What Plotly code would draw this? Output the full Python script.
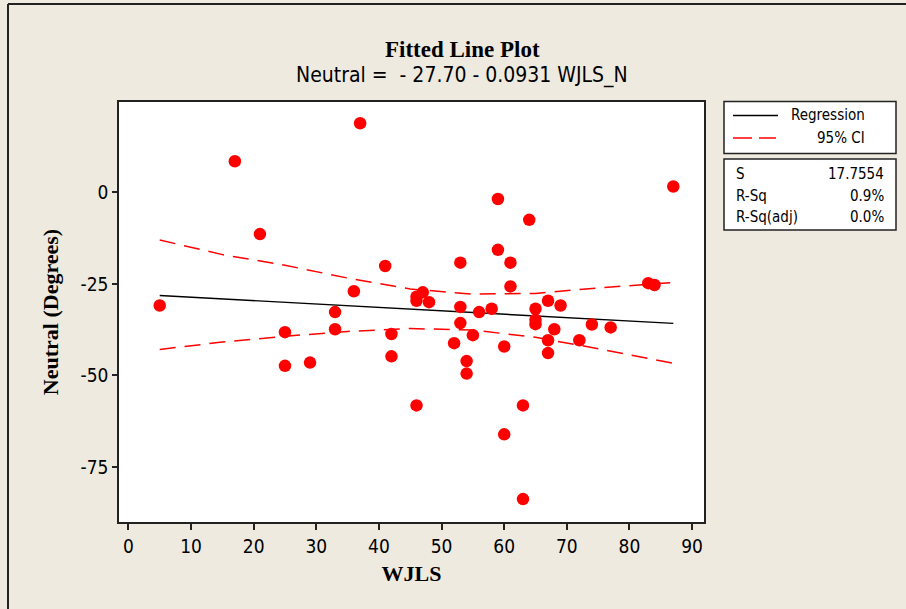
import plotly.graph_objects as go

# WJLS score vs. neutral angle (degrees)
wjls = [5, 17, 37, 21, 41, 36, 46, 46, 47, 33,
        25, 33, 42, 25, 29, 42, 46, 87, 59, 64,
        59, 53, 61, 61, 83, 84, 48, 53, 56, 58,
        65, 67, 69, 65, 65, 53, 74, 77, 68, 55,
        52, 60, 67, 72, 67, 54, 54, 63, 60, 63]
neutral = [-30.9, 8.5, 18.9, -11.4, -20.1, -27.0, -28.5, -29.6, -27.3, -32.7,
           -38.2, -37.4, -38.7, -47.4, -46.5, -44.8, -58.2, 1.6, -1.8, -7.5,
           -15.7, -19.2, -19.2, -25.7, -24.8, -25.3, -30.0, -31.3, -32.7, -31.8,
           -31.8, -29.6, -30.9, -34.8, -36.0, -35.7, -36.1, -36.9, -37.4, -39.0,
           -41.2, -42.1, -40.4, -40.4, -43.9, -46.1, -49.5, -58.2, -66.1, -83.8]

# Fitted model: Neutral = -27.70 - 0.0931 WJLS_N
intercept = -27.70
slope = -0.0931

# 95% confidence band for the mean response
ci_x = [5, 15, 25, 35, 45, 55, 65, 75, 87]
ci_upper = [-13.0, -17.0, -19.9, -23.4, -26.4, -27.8, -27.6, -26.1, -24.6]
ci_lower = [-42.9, -40.9, -39.3, -38.0, -37.2, -37.6, -39.6, -42.7, -46.7]

x_ticks = [0, 10, 20, 30, 40, 50, 60, 70, 80, 90]
y_ticks = [0, -25, -50, -75]

stats_labels = ["S", "R-Sq", "R-Sq(adj)"]
stats_values = ["17.7554", "0.9%", "0.0%"]

BG = "#EEEAE0"
SANS = "DejaVu Sans Condensed, DejaVu Sans, sans-serif"
SERIF = "Liberation Serif, Times New Roman, serif"

W, H = 906, 609
L, R, T, B = 119, 704, 102, 522   # plot area in pixels


def px(xpix):
    return (xpix - L) / (R - L)


def py(ypix):
    return (B - ypix) / (B - T)


fit_x = [min(wjls), max(wjls)]
fit_y = [intercept + slope * v for v in fit_x]

fig = go.Figure()
fig.add_trace(go.Scatter(x=ci_x, y=ci_upper, mode="lines",
                         line=dict(color="#FF0000", width=1.5, dash="16px,9px"),
                         hoverinfo="skip", showlegend=False))
fig.add_trace(go.Scatter(x=ci_x, y=ci_lower, mode="lines",
                         line=dict(color="#FF0000", width=1.5, dash="16px,9px"),
                         hoverinfo="skip", showlegend=False))
fig.add_trace(go.Scatter(x=fit_x, y=fit_y, mode="lines",
                         line=dict(color="black", width=1.4),
                         showlegend=False))
fig.add_trace(go.Scatter(x=wjls, y=neutral, mode="markers",
                         marker=dict(color="#FF0000", size=12.5, line=dict(width=0)),
                         showlegend=False))

shapes = []
# outer frame (left and top edges)
shapes.append(dict(type="line", xref="paper", yref="paper",
                   x0=px(8), x1=px(8), y0=py(4), y1=py(640),
                   line=dict(color="#222222", width=2)))
shapes.append(dict(type="line", xref="paper", yref="paper",
                   x0=px(8), x1=px(920), y0=py(4), y1=py(4),
                   line=dict(color="#222222", width=2)))
# key boxes
shapes.append(dict(type="rect", xref="paper", yref="paper",
                   x0=px(724), x1=px(896), y0=py(101.5), y1=py(153.5),
                   fillcolor="white", line=dict(color="#222222", width=1.5)))
shapes.append(dict(type="rect", xref="paper", yref="paper",
                   x0=px(724), x1=px(896), y0=py(159), y1=py(230),
                   fillcolor="white", line=dict(color="#222222", width=1.5)))
# key samples
shapes.append(dict(type="line", xref="paper", yref="paper",
                   x0=px(733), x1=px(778), y0=py(115.5), y1=py(115.5),
                   line=dict(color="black", width=1.4)))
shapes.append(dict(type="line", xref="paper", yref="paper",
                   x0=px(733), x1=px(752), y0=py(138), y1=py(138),
                   line=dict(color="#FF0000", width=1.5)))
shapes.append(dict(type="line", xref="paper", yref="paper",
                   x0=px(759), x1=px(776), y0=py(138), y1=py(138),
                   line=dict(color="#FF0000", width=1.5)))

annotations = [
    dict(text="<b>Fitted Line Plot</b>", x=px(462), y=py(49), xref="paper", yref="paper",
         showarrow=False, xanchor="center", yanchor="middle",
         font=dict(family=SERIF, size=23, color="black")),
    dict(text="Neutral =  - 27.70 - 0.0931 WJLS_N", x=px(462), y=py(75),
         xref="paper", yref="paper", showarrow=False, xanchor="center", yanchor="middle",
         font=dict(family=SANS, size=21, color="black")),
    dict(text="Regression", x=px(867), y=py(115), xref="paper", yref="paper",
         showarrow=False, xanchor="right", yanchor="middle",
         font=dict(family=SANS, size=15, color="black")),
    dict(text="95% CI", x=px(867), y=py(137.5), xref="paper", yref="paper",
         showarrow=False, xanchor="right", yanchor="middle",
         font=dict(family=SANS, size=15, color="black")),
]
for i, (lab, val) in enumerate(zip(stats_labels, stats_values)):
    yy = 174 + i * 21.5
    annotations.append(dict(text=lab, x=px(734), y=py(yy), xref="paper", yref="paper",
                            showarrow=False, xanchor="left", yanchor="middle",
                            font=dict(family=SANS, size=15, color="black")))
    annotations.append(dict(text=val, x=px(886), y=py(yy), xref="paper", yref="paper",
                            showarrow=False, xanchor="right", yanchor="middle",
                            font=dict(family=SANS, size=15, color="black")))

fig.update_layout(
    width=W, height=H,
    margin=dict(l=L, r=W - R, t=T, b=H - B, pad=0),
    paper_bgcolor=BG, plot_bgcolor="white",
    shapes=shapes, annotations=annotations,
    showlegend=False,
    xaxis=dict(range=[-1.5, 91.9], tickvals=x_ticks, ticktext=[str(v) for v in x_ticks],
               showgrid=False, zeroline=False,
               showline=True, mirror=True, linecolor="#222222", linewidth=1.5,
               ticks="outside", ticklen=6, tickwidth=1.5, tickcolor="#222222",
               tickfont=dict(family=SANS, size=19, color="black"),
               title=dict(text="<b>WJLS</b>", standoff=10,
                          font=dict(family=SERIF, size=22, color="black"))),
    yaxis=dict(range=[-90.06, 24.7], tickvals=y_ticks, ticktext=[str(v) for v in y_ticks],
               showgrid=False, zeroline=False,
               showline=True, mirror=True, linecolor="#222222", linewidth=1.5,
               ticks="outside", ticklen=5, tickwidth=1.5, tickcolor="#222222",
               tickfont=dict(family=SANS, size=19, color="black"),
               title=dict(text="<b>Neutral (Degrees)</b>", standoff=16,
                          font=dict(family=SERIF, size=22, color="black"))),
)

fig.write_html("out.html")
